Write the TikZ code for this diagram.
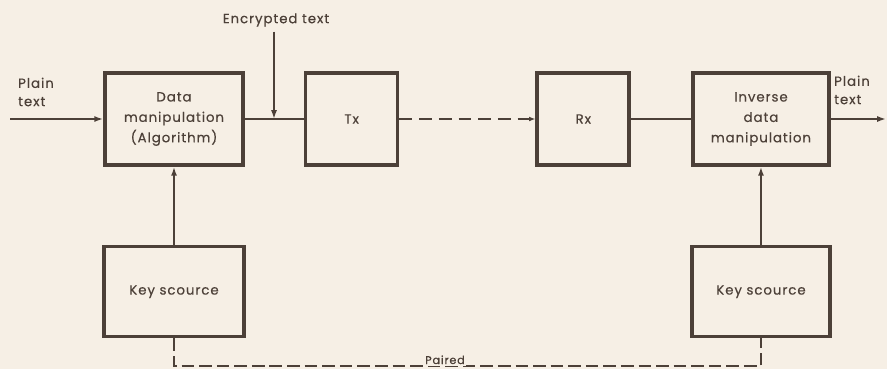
\documentclass[tikz,border=0pt]{standalone}
\usepackage{fontspec}
\setmainfont{Poppins}[LetterSpace=7,FakeBold=0.4]
\usetikzlibrary{arrows.meta,positioning}
\definecolor{ink}{RGB}{76,64,56}
\definecolor{paper}{RGB}{246,239,229}

\begin{document}
\begin{tikzpicture}[
    node distance=1.95cm and 1.5cm,
    box/.style={rectangle, draw=ink, line width=2.6pt, text=ink, fill=paper,
                align=center, minimum height=2.3cm, font=\fontsize{9.5}{14.5}\selectfont},
    lbl/.style={text=ink, align=left, font=\fontsize{9.5}{13}\selectfont},
    arr/.style={-{Latex[length=2.2mm,width=1.5mm]}, ink, line width=1.2pt},
    link/.style={ink, line width=1.2pt},
    dashline/.style={ink, line width=1.4pt, dash pattern=on 9pt off 5pt},
    pairline/.style={ink, line width=1.4pt, dash pattern=on 9pt off 3.5pt}]
\fill[paper] (0,0) rectangle (22.175,-9.225);
\useasboundingbox (0,0) rectangle (22.175,-9.225);
% transmit side
\node[box, minimum width=3.45cm] (data) at (4.35,-2.975) {Data\\manipulation\\(Algorithm)};
\node[box, minimum width=2.3cm, right=1.475cm of data] (tx) {Tx};
% receive side
\node[box, minimum width=2.3cm, right=3.4cm of tx] (rx) {Rx};
\node[box, minimum width=3.4cm, right=of rx] (inv) {Inverse\\data\\manipulation};
% keys
\node[box, minimum width=3.5cm, minimum height=2.25cm, below=of data] (keyl) {Key scource};
\node[box, minimum width=3.45cm, minimum height=2.25cm, below=of inv] (keyr) {Key scource};
% labels
\node[lbl] (ptl) at (0.9,-2.3) {Plain\\text};
\node[lbl] (ptr) at (21.3,-2.25) {Plain\\text};
\node[lbl] (enc) at (6.9,-0.5) {Encrypted text};
\coordinate (inl) at (0.25,-2.975);
\coordinate (outr) at (22.15,-2.975);
\coordinate (join) at (6.85,-2.975);
\coordinate (base) at (11.125,-9.15);
% connectors
\draw[arr] (inl) -- (data);
\draw[link] (data) -- (tx);
\draw[arr] (enc.south -| join) -- (join);
\draw[dashline, -{Latex[length=1.6mm,width=1.2mm]}] (tx) -- (rx);
\draw[link] (rx) -- (inv);
\draw[arr] (inv) -- (outr);
\draw[arr] (keyl) -- (data);
\draw[arr] (keyr) -- (inv);
\draw[pairline] (keyl.south) -- (keyl.south |- base) -- (keyr.south |- base) -- (keyr.south);
\node[lbl, fill=paper, inner sep=1pt, anchor=base, font=\fontsize{8}{9}\selectfont] (paired) at (11.125,-9.1) {Paired};
\end{tikzpicture}
\end{document}
